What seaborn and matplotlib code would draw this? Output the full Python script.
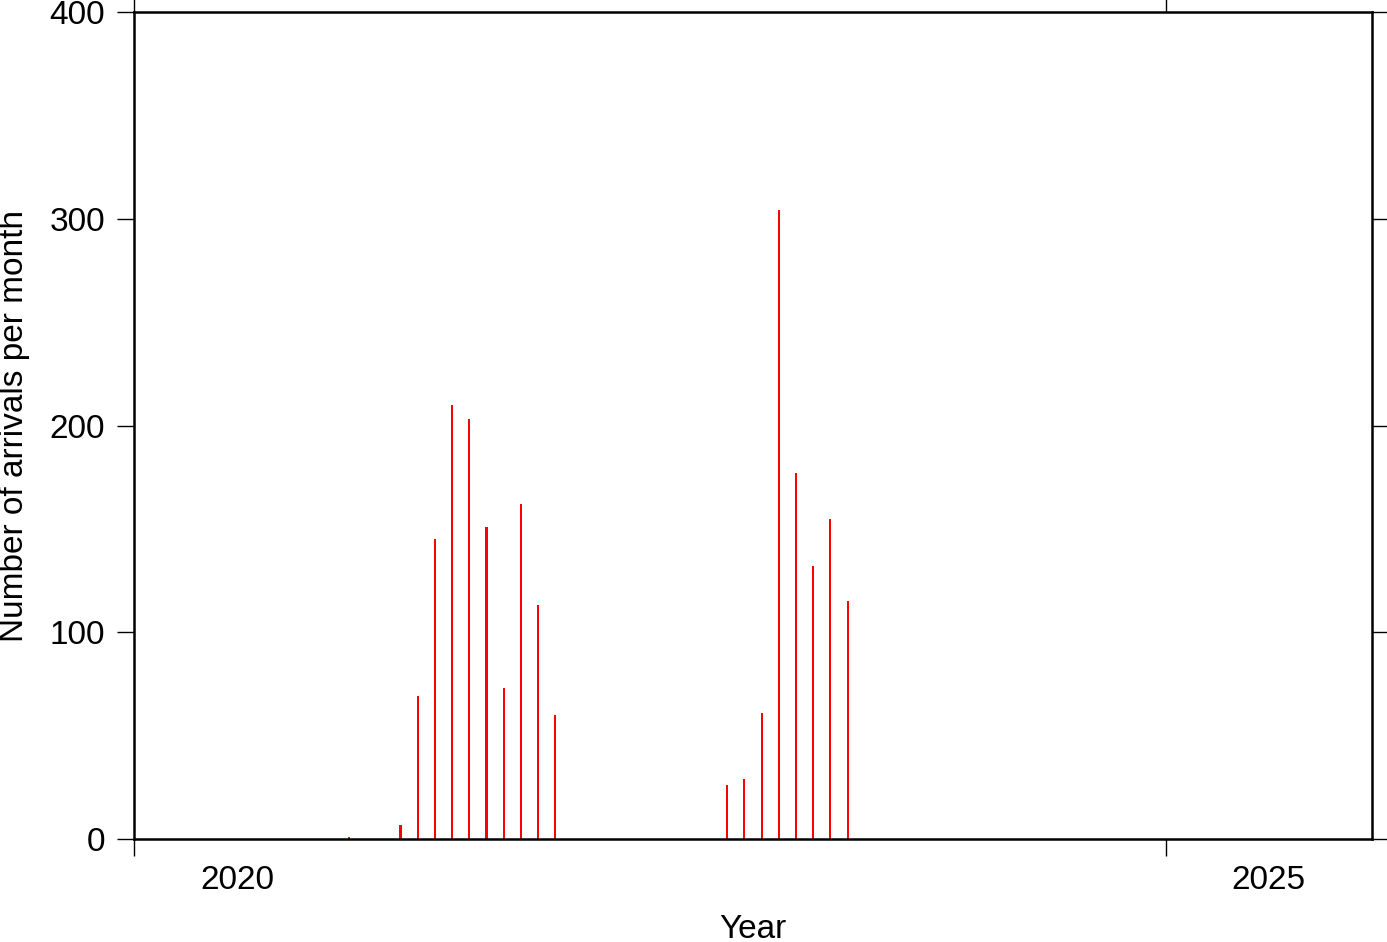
import numpy as np
import pandas as pd
import matplotlib
matplotlib.use("Agg")
import matplotlib.pyplot as plt
import seaborn as sns
from matplotlib.ticker import FixedLocator, FixedFormatter, NullFormatter

# ---- data ----
months = ["2021-01", "2021-04", "2021-05", "2021-06", "2021-07", "2021-08",
          "2021-09", "2021-10", "2021-11", "2021-12", "2022-01",
          "2022-11", "2022-12", "2023-01", "2023-02", "2023-03",
          "2023-04", "2023-05", "2023-06"]
counts = [1, 7, 69, 145, 210, 203, 151, 73, 162, 113, 60,
          26, 29, 61, 304, 177, 132, 155, 115]
year_ticks = [2020, 2025]
year_labels = ["2020", "2025"]
y_ticks = [0, 100, 200, 300, 400]

sns.set_style("white")
plt.rcParams['font.family'] = ['Liberation Sans', 'DejaVu Sans']
plt.rcParams['text.color'] = 'black'
plt.rcParams['axes.labelcolor'] = 'black'
plt.rcParams['xtick.color'] = 'black'
plt.rcParams['ytick.color'] = 'black'

dt = pd.to_datetime(months)
xpos = dt.year + (dt.month - 0.5) / 12.0
df = pd.DataFrame({"t": np.asarray(xpos, dtype=float), "n": counts})

fig = plt.figure(figsize=(13.87, 9.42), dpi=100)
ax = fig.add_axes([134 / 1387, 103 / 942, (1372 - 134) / 1387, (839 - 12) / 942])

sns.barplot(data=df, x="t", y="n", native_scale=True, color="#ff0000",
            saturation=1, width=0.12, linewidth=0, errorbar=None, ax=ax)

ax.set_xlim(2020, 2026)
ax.set_ylim(0, 400)

for s in ax.spines.values():
    s.set_visible(True)
    s.set_linewidth(1.8)
    s.set_color("black")

ax.xaxis.set_major_locator(FixedLocator(year_ticks))
ax.xaxis.set_major_formatter(NullFormatter())
ax.xaxis.set_minor_locator(FixedLocator([y + 0.5 for y in year_ticks]))
ax.xaxis.set_minor_formatter(FixedFormatter(year_labels))
ax.tick_params(axis="x", which="major", length=12, width=1, direction="out",
               top=True, bottom=True, color="black")
ax.tick_params(axis="x", which="minor", length=0, pad=19, labelsize=24,
               top=False, bottom=True, labelcolor="black")

ax.yaxis.set_major_locator(FixedLocator(y_ticks))
ax.tick_params(axis="y", which="major", length=12, width=1, direction="out",
               left=True, right=True, labelsize=24, pad=9, color="black",
               labelcolor="black")

ax.set_xlabel("Year", fontsize=24, labelpad=12.5, color="black")
ax.set_ylabel("Number of arrivals per month", fontsize=24, labelpad=14,
              color="black")
ax.grid(False)

fig.savefig("out.png", dpi=100, facecolor="white")
